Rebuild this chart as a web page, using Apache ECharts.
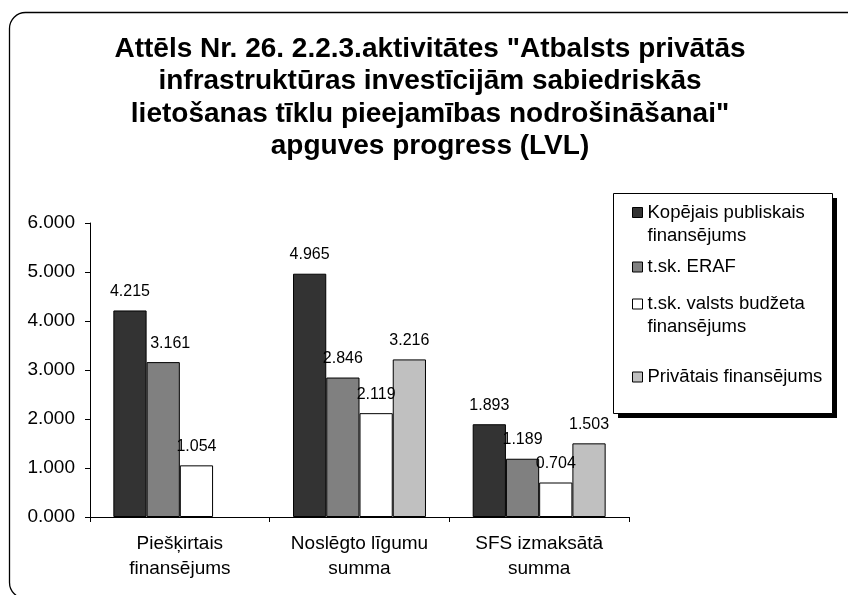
<!DOCTYPE html>
<html>
<head>
<meta charset="utf-8">
<script src="https://cdn.jsdelivr.net/npm/echarts@6/dist/echarts.min.js"></script>
<style>
  html, body { margin: 0; padding: 0; background: #fff; }
  #chart { width: 848px; height: 595px; }
</style>
</head>
<body>
<div id="chart"></div>
<script>
const categories = ['Piešķirtais\nfinansējums', 'Noslēgto līgumu\nsumma', 'SFS izmaksātā\nsumma']
const seriesNames = ['Kopējais publiskais finansējums', 't.sk. ERAF', 't.sk. valsts budžeta finansējums', 'Privātais finansējums']
const legendLines = ['Kopējais publiskais\nfinansējums', 't.sk. ERAF', 't.sk. valsts budžeta\nfinansējums', 'Privātais finansējums']
const kopejais = [4.215, 4.965, 1.893]
const eraf = [3.161, 2.846, 1.189]
const valsts = [1.054, 2.119, 0.704]
const privatais = [null, 3.216, 1.503]
const yTicks = [0, 1, 2, 3, 4, 5, 6]

const colors = ['#333333', '#808080', '#ffffff', '#c0c0c0']
const font = 'Liberation Sans, Arial, sans-serif'

const chart = echarts.init(document.getElementById('chart'))

const values = [kopejais, eraf, valsts, privatais]
const series = seriesNames.map((name, i) => ({
  name: name,
  type: 'bar',
  // the ERAF label of the first group was nudged right in the original
  data: values[i].map((v, j) => (i === 1 && j === 0 ? { value: v, label: { offset: [7, 0] } } : v)),
  barGap: '0%',
  barCategoryGap: '26%',
  itemStyle: { color: colors[i], borderColor: '#000', borderWidth: 1 },
  label: {
    show: true,
    position: 'top',
    distance: 11,
    color: '#000',
    fontFamily: font,
    fontSize: 16,
    formatter: p => p.value.toFixed(3)
  }
}))

// one legend per item so the spacing can follow the original box;
// two-line names get an empty first line so the marker sits on the first text line
const legendTops = [178, 255.5, 269.5, 365.5]
const legends = seriesNames.map((name, i) => {
  const twoLines = legendLines[i].indexOf('\n') >= 0
  return {
    data: [{ name: name, icon: 'rect' }],
    left: 632,
    top: legendTops[i],
    padding: 0,
    itemWidth: 10,
    itemHeight: 10,
    itemGap: 0,
    itemStyle: { borderColor: '#000', borderWidth: 1 },
    formatter: () => (twoLines ? '\n' : '') + legendLines[i],
    textStyle: {
      color: '#000',
      fontFamily: font,
      fontSize: 18.5,
      lineHeight: 23
    },
    selectedMode: false,
    z: 10
  }
})

chart.setOption({
  animation: false,
  backgroundColor: '#fff',
  textStyle: { fontFamily: font },
  title: {
    text: 'Attēls Nr. 26. 2.2.3.aktivitātes "Atbalsts privātās\ninfrastruktūras investīcijām sabiedriskās\nlietošanas tīklu pieejamības nodrošināšanai"\napguves progress (LVL)',
    left: 430,
    top: 33,
    textAlign: 'center',
    padding: 0,
    textStyle: {
      fontFamily: font,
      fontSize: 28,
      fontWeight: 'bold',
      color: '#000',
      lineHeight: 32.5
    }
  },
  graphic: [
    {
      type: 'rect',
      z: -10,
      shape: { x: 9.5, y: 12.5, width: 860, height: 586, r: 16 },
      style: { fill: 'none', stroke: '#000', lineWidth: 1.3 }
    },
    {
      type: 'rect',
      z: -6,
      shape: { x: 618, y: 198, width: 219, height: 220 },
      style: { fill: '#000' }
    },
    {
      type: 'rect',
      z: -5,
      shape: { x: 613.5, y: 193.5, width: 219, height: 220 },
      style: { fill: '#fff', stroke: '#000', lineWidth: 1 }
    }
  ],
  legend: legends,
  grid: { left: 90, right: 219, top: 223, bottom: 78 },
  xAxis: {
    type: 'category',
    data: categories,
    axisLine: { lineStyle: { color: '#000', width: 1 } },
    axisTick: { show: true, length: 5, lineStyle: { color: '#000' } },
    axisLabel: { color: '#000', fontFamily: font, fontSize: 19, lineHeight: 25, margin: 14 }
  },
  yAxis: {
    type: 'value',
    min: yTicks[0],
    max: yTicks[yTicks.length - 1],
    interval: 1,
    splitLine: { show: false },
    axisLine: { show: true, lineStyle: { color: '#000', width: 1 } },
    axisTick: { show: true, length: 5, lineStyle: { color: '#000' } },
    axisLabel: { color: '#000', fontFamily: font, fontSize: 19, margin: 15, formatter: v => v.toFixed(3) }
  },
  series: series
})
</script>
</body>
</html>
